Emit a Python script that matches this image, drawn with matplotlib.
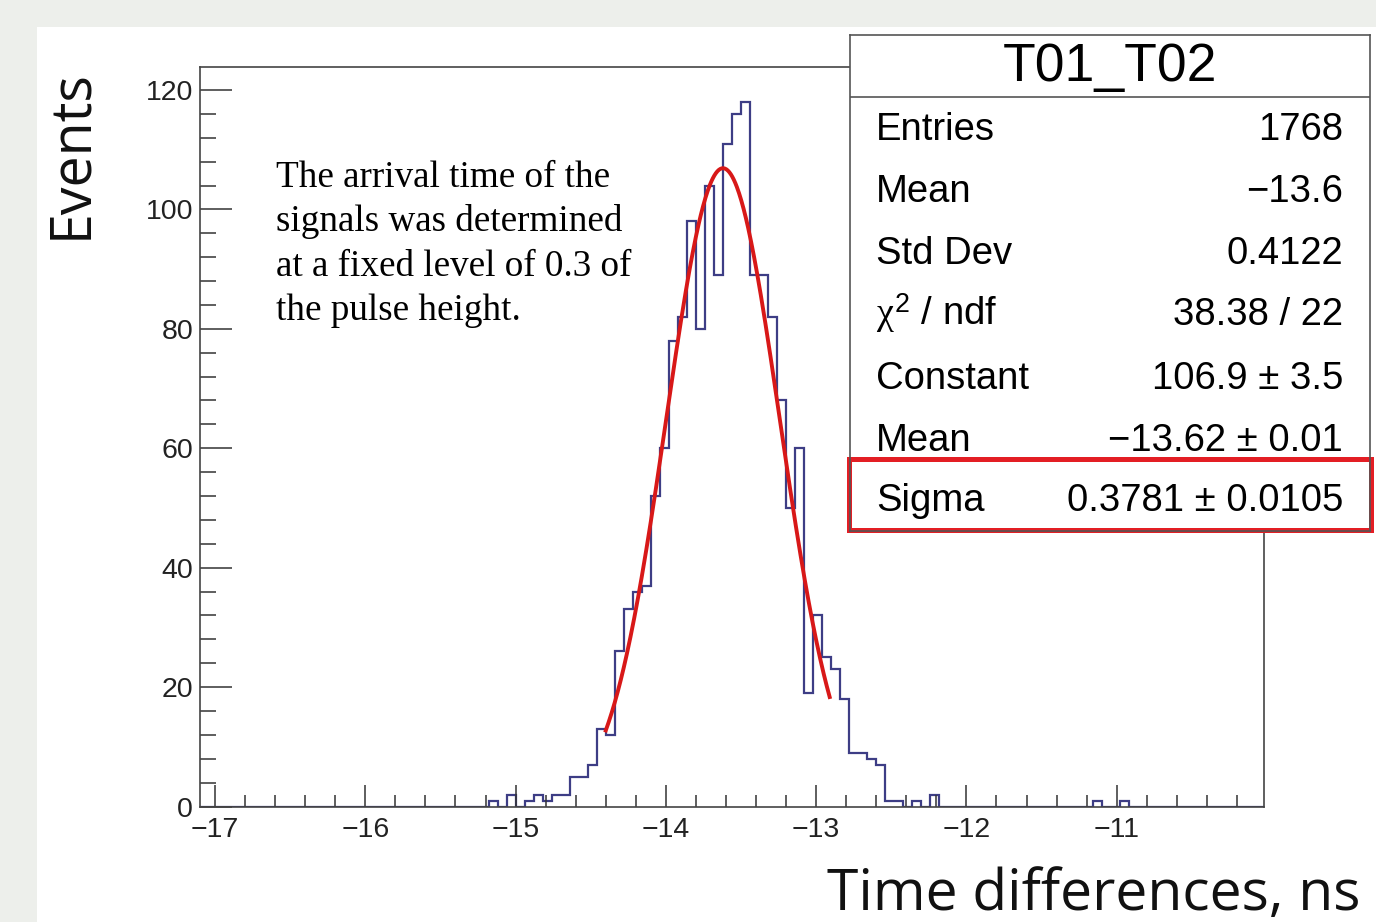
import numpy as np
import matplotlib.pyplot as plt
from matplotlib.patches import Rectangle
from matplotlib.ticker import MultipleLocator

# histogram binning (ROOT TH1, 0.06 ns bins)
hist_low = -17.1
hist_high = -10.02
n_bins = 118
first_bin = 32
counts = [1, 0, 2, 0, 1, 2, 1, 2, 2, 5, 5, 7, 13, 12, 26, 33, 36, 37, 52, 60,
          78, 82, 98, 80, 104, 89, 111, 116, 118, 89, 89, 82, 68, 50, 60, 19,
          32, 25, 23, 18, 9, 9, 8, 7, 1, 1, 0, 1, 0, 2,
          0, 0, 0, 0, 0, 0, 0, 0, 0, 0, 0, 0, 0, 0, 0, 0, 0,
          1, 0, 0, 1]

# gaussian fit from the stats box
fit_const = 106.9
fit_mean = -13.62
fit_sigma = 0.3781
fit_low = -14.4
fit_high = -12.91

stat_labels = ['Entries', 'Mean', 'Std Dev', r'$\chi^{2}$ / ndf', 'Constant', 'Mean', 'Sigma']
stat_values = ['1768', '\u221213.6', '0.4122', '38.38 / 22', '106.9 \u00b1 3.5',
               '\u221213.62 \u00b1 0.01', '0.3781 \u00b1 0.0105']
stat_baselines = [140, 202, 264, 325, 389, 451, 511]

note_lines = ['The arrival time of the', 'signals was determined',
              'at a fixed level of 0.3 of', 'the pulse height.']
note_baselines = [187, 231, 276, 320]

W, H = 1376, 922


def fx(px):
    return px / W


def fy(py):
    return 1 - py / H


plt.rcParams['mathtext.fontset'] = 'custom'
plt.rcParams['mathtext.it'] = 'Liberation Serif'
plt.rcParams['mathtext.rm'] = 'Liberation Sans'
plt.rcParams['font.family'] = ['Liberation Sans', 'DejaVu Sans']

fig = plt.figure(figsize=(13.76, 9.22), dpi=100, facecolor='#edefeb')
fig.patches.append(Rectangle((fx(37), 0), 1 - fx(37), fy(27), transform=fig.transFigure,
                             facecolor='white', edgecolor='none', zorder=-5))

ax = fig.add_axes([fx(200), fy(806.5), fx(1264) - fx(200), fy(66.7) - fy(806.5)])
ax.set_zorder(1)
ax.patch.set_alpha(0)

edges = hist_low + (hist_high - hist_low) / n_bins * np.arange(n_bins + 1)
full = np.zeros(n_bins)
full[first_bin:first_bin + len(counts)] = counts
ax.stairs(full, edges, color='#3d3d85', lw=1.6)

xs = np.linspace(fit_low, fit_high, 300)
ax.plot(xs, fit_const * np.exp(-0.5 * ((xs - fit_mean) / fit_sigma) ** 2), color='#d81818', lw=2.8)

ax.set_xlim(hist_low, hist_high)
ax.set_ylim(0, 1.05 * max(counts))
ax.xaxis.set_major_locator(MultipleLocator(1))
ax.xaxis.set_minor_locator(MultipleLocator(0.2))
ax.yaxis.set_major_locator(MultipleLocator(20))
ax.yaxis.set_minor_locator(MultipleLocator(4))
ax.tick_params(which='both', direction='in', top=False, right=False, color='#333333', width=1.1)
ax.tick_params(axis='x', which='major', length=15.8, pad=7.5, labelsize=20.5, labelcolor='#222222')
ax.tick_params(axis='x', which='minor', length=8.6)
ax.tick_params(axis='y', which='major', length=23, pad=5, labelsize=20.5, labelcolor='#222222')
ax.tick_params(axis='y', which='minor', length=11.5)
for s in ax.spines.values():
    s.set_color('#444444')
    s.set_linewidth(1.2)

# stats box, drawn in pixel coordinates
sax = fig.add_axes([fx(850), fy(531), fx(1370) - fx(850), fy(35) - fy(531)])
sax.set_zorder(2)
sax.set_xlim(850, 1370)
sax.set_ylim(531, 35)
sax.set_xticks([])
sax.set_yticks([])
for s in sax.spines.values():
    s.set_color('#555555')
    s.set_linewidth(1.2)
sax.axhline(97, color='#555555', lw=1.2)
sax.text(1110, 81, 'T01_T02', ha='center', va='baseline', fontsize=38.5)
for lab, val, yb in zip(stat_labels, stat_values, stat_baselines):
    sax.text(876, yb, lab, ha='left', va='baseline', fontsize=27.5)
    sax.text(1343, yb, val, ha='right', va='baseline', fontsize=27.5)
sax.add_patch(Rectangle((849.5, 459.5), 521, 71, fill=False, edgecolor='#e31e24', lw=3.6, clip_on=False))

for line, yb in zip(note_lines, note_baselines):
    fig.text(fx(276), fy(yb), line, ha='left', va='baseline', fontsize=26.7, family='Liberation Serif')

fig.text(fx(72), fy(154), 'Events', rotation=90, ha='center', va='center', fontsize=40,
         family='Open Sans', color='#111111')
fig.text(fx(1360), fy(910), 'Time differences, ns', ha='right', va='baseline', fontsize=41,
         family='Open Sans', color='#111111')

fig.savefig('out.png', dpi=100, facecolor=fig.get_facecolor())
